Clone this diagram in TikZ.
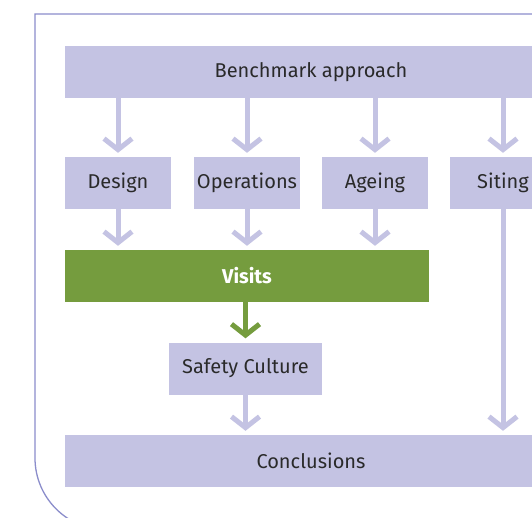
\documentclass[tikz,border=0pt]{standalone}
\usepackage{fontspec}
\setmainfont{Fira Sans}
\usetikzlibrary{arrows.meta}
\definecolor{lav}{HTML}{C4C3E3}
\definecolor{grn}{HTML}{759C3E}
\definecolor{frm}{HTML}{8B8DCB}
\definecolor{txt}{HTML}{2A2A2A}
\tikzset{
  box/.style={fill=lav, draw=none, text=txt, font=\fontsize{20}{24}\selectfont, inner sep=0pt, minimum height=52pt},
  gbox/.style={box, fill=grn, text=white, font=\fontsize{20}{24}\selectfont\bfseries},
  arr/.style={draw=lav, line width=5pt, -{Straight Barb[length=11pt,width=28pt,line width=5pt]}, shorten >=4pt},
  garr/.style={arr, draw=grn}
}
\begin{document}
\begin{tikzpicture}[x=1pt,y=-1pt]
\useasboundingbox (0,0) rectangle (532,518);
\clip (0,0) rectangle (532,518);
\fill[white] (0,0) rectangle (532,518);
\draw[frm, line width=1.3pt] (600,14) -- (35,14) -- (35,458) arc[start angle=180, end angle=90, radius=72] -- (600,530);
\node[box, minimum width=492pt] (bench) at (311,72) {Benchmark approach};
\node[box, minimum width=106pt] (design) at (118,183) {Design};
\node[box, minimum width=106pt] (ops) at (247,183) {Operations};
\node[box, minimum width=106pt] (age) at (375,183) {Ageing};
\node[box, minimum width=106pt] (siting) at (503,183) {Siting};
\node[gbox, minimum width=364pt] (visits) at (247,276) {Visits};
\node[box, minimum width=153pt] (safety) at (245.5,368.5) {Safety Culture};
\node[box, minimum width=492pt] (concl) at (311,461) {Conclusions};
\draw[arr] (bench.south -| design) -- (design.north);
\draw[arr] (bench.south -| ops) -- (ops.north);
\draw[arr] (bench.south -| age) -- (age.north);
\draw[arr] (bench.south -| siting) -- (siting.north);
\draw[arr] (design.south) -- (visits.north -| design);
\draw[arr] (ops.south) -- (visits.north -| ops);
\draw[arr] (age.south) -- (visits.north -| age);
\draw[garr] (visits.south -| safety) -- (safety.north);
\draw[arr] (safety.south) -- (concl.north -| safety);
\draw[arr] (siting.south) -- (concl.north -| siting);
\end{tikzpicture}
\end{document}
